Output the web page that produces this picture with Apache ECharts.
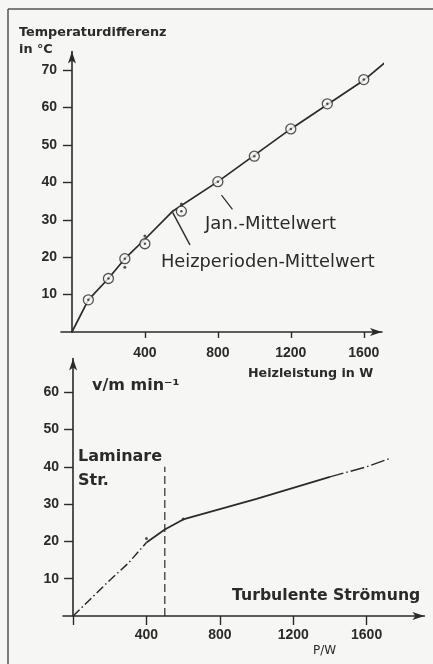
<!DOCTYPE html>
<html>
<head>
<meta charset="utf-8">
<script src="https://cdn.jsdelivr.net/npm/echarts@6/dist/echarts.min.js"></script>
<style>
html, body { margin: 0; padding: 0; background: #f6f6f4; }
#chart { width: 433px; height: 664px; }
</style>
</head>
<body>
<div id="chart"></div>
<script>
// oberes Diagramm: Temperaturdifferenz ueber Heizleistung
var janW = [90, 200, 290, 400, 600, 800, 1000, 1200, 1400, 1600];
var janT = [8.6, 14.3, 19.6, 23.6, 32.3, 40.2, 47, 54.3, 61, 67.5];
var heizW = [290, 400, 600];
var heizT = [17.3, 25.7, 34.2];
var kurveW = [0, 90, 200, 290, 400, 550, 800, 1200, 1600, 1730];
var kurveT = [0, 8.6, 14.3, 19.6, 24.8, 32.2, 40.2, 54.3, 67.3, 72.6];
var janZeigerW = [820, 880];
var janZeigerT = [36.6, 32.8];
var heizZeigerW = [552, 647];
var heizZeigerT = [32, 23.3];

// unteres Diagramm: Stroemungsgeschwindigkeit ueber Leistung
var stroemW = [0, 200, 300, 400, 500, 600, 1000, 1400, 1600, 1730];
var stroemV = [0, 9.6, 14.1, 19.7, 23.2, 25.9, 31.4, 37.3, 40, 42.3];
var messW = [400, 600];
var messV = [20.8, 26];
var grenzeW = [500, 500];
var grenzeV = [0, 40];

var xTicks = [400, 800, 1200, 1600];
var yTicksOben = [10, 20, 30, 40, 50, 60, 70];
var yTicksUnten = [10, 20, 30, 40, 50, 60];

var ink = '#2a2a2a';
var bg = '#f6f6f4';
var tickFont = '"Liberation Sans", Arial, sans-serif';
var font = '"DejaVu Sans", sans-serif';

function zip(a, b) {
	return a.map(function (v, i) { return [v, b[i]]; });
}

function axisX(idx, min, max, ticks, tickLen, margin) {
	return {
		type: 'value', gridIndex: idx, min: min, max: max,
		splitLine: { show: false },
		axisLine: { onZero: true, symbol: ['none', 'arrow'], symbolSize: [6, 12], lineStyle: { color: ink, width: 1.6 } },
		axisTick: { customValues: ticks, length: tickLen, lineStyle: { color: ink, width: 1.4 } },
		axisLabel: { customValues: xTicks, margin: margin, color: ink, fontSize: 14, fontWeight: 'bold', fontFamily: tickFont,
			formatter: function (v) { return String(v); } }
	};
}

function axisY(idx, max, ticks) {
	return {
		type: 'value', gridIndex: idx, min: 0, max: max,
		splitLine: { show: false },
		axisLine: { onZero: true, symbol: ['none', 'arrow'], symbolSize: [6, 12], lineStyle: { color: ink, width: 1.6 } },
		axisTick: { customValues: ticks, length: 9, lineStyle: { color: ink, width: 1.4 } },
		axisLabel: { customValues: ticks, margin: 4, color: ink, fontSize: 14, fontWeight: 'bold', fontFamily: tickFont }
	};
}

function text(x, y, str, size, weight) {
	return {
		type: 'text', left: x, top: y,
		style: { text: str, fill: ink, font: (weight || 'bold') + ' ' + size + 'px ' + font }
	};
}

var chart = echarts.init(document.getElementById('chart'));

var option = {
	backgroundColor: bg,
	animation: false,
	grid: [
		{ left: 61, right: 51, top: 51.5, bottom: 332 },
		{ left: 63, right: 8.6, top: 358.6, bottom: 48 }
	],
	xAxis: [
		axisX(0, -60, 1700, xTicks, 6, 14),
		axisX(1, -55, 1915, [0].concat(xTicks), 9, 12)
	],
	yAxis: [
		axisY(0, 75, yTicksOben),
		axisY(1, 69, yTicksUnten)
	],
	series: [
		{ type: 'line', xAxisIndex: 0, yAxisIndex: 0, data: zip(kurveW, kurveT), symbol: 'none', clip: false,
		  lineStyle: { color: ink, width: 1.7 }, z: 2 },
		{ type: 'line', xAxisIndex: 0, yAxisIndex: 0, data: zip(janZeigerW, janZeigerT), symbol: 'none',
		  lineStyle: { color: ink, width: 1.2 }, z: 2 },
		{ type: 'line', xAxisIndex: 0, yAxisIndex: 0, data: zip(heizZeigerW, heizZeigerT), symbol: 'none',
		  lineStyle: { color: ink, width: 1.4 }, z: 2 },
		{ type: 'scatter', xAxisIndex: 0, yAxisIndex: 0, data: zip(janW, janT), symbol: 'circle', symbolSize: 10,
		  itemStyle: { color: bg, borderColor: ink, borderWidth: 1.3 }, z: 3 },
		{ type: 'scatter', xAxisIndex: 0, yAxisIndex: 0, data: zip(janW, janT), symbolSize: 2.5,
		  itemStyle: { color: ink }, z: 4 },
		{ type: 'scatter', xAxisIndex: 0, yAxisIndex: 0, data: zip(heizW, heizT), symbolSize: 3,
		  itemStyle: { color: ink }, z: 4 },

		{ type: 'line', xAxisIndex: 1, yAxisIndex: 1, data: zip(stroemW.slice(0, 4), stroemV.slice(0, 4)), symbol: 'none',
		  lineStyle: { color: ink, width: 1.5, type: [9, 3, 1.5, 3] }, z: 2 },
		{ type: 'line', xAxisIndex: 1, yAxisIndex: 1, data: zip(stroemW.slice(3, 8), stroemV.slice(3, 8)), symbol: 'none',
		  lineStyle: { color: ink, width: 1.7 }, z: 2 },
		{ type: 'line', xAxisIndex: 1, yAxisIndex: 1, data: zip(stroemW.slice(7), stroemV.slice(7)), symbol: 'none',
		  lineStyle: { color: ink, width: 1.5, type: [14, 3, 1.5, 3] }, z: 2 },
		{ type: 'line', xAxisIndex: 1, yAxisIndex: 1, data: zip(grenzeW, grenzeV), symbol: 'none',
		  lineStyle: { color: ink, width: 1.2, type: [8, 4] }, z: 2 },
		{ type: 'scatter', xAxisIndex: 1, yAxisIndex: 1, data: zip(messW, messV), symbolSize: 3,
		  itemStyle: { color: ink }, z: 3 }
	],
	graphic: [
		{ type: 'line', shape: { x1: 8, y1: 9, x2: 433, y2: 9 }, style: { stroke: '#555', lineWidth: 1.5 } },
		{ type: 'line', shape: { x1: 8, y1: 9, x2: 8, y2: 664 }, style: { stroke: '#555', lineWidth: 1.5 } },
		text(19, 26, 'Temperaturdifferenz', 12.8),
		text(19, 43, 'in \u00b0C', 12.8),
		text(205, 215, 'Jan.-Mittelwert', 18, 'normal'),
		text(161, 253, 'Heizperioden-Mittelwert', 17.8, 'normal'),
		text(248, 367, 'Heizleistung in W', 12.7),
		text(92, 378, 'v/m min\u207b\u00b9', 16),
		text(78, 449, 'Laminare', 16),
		text(78, 473, 'Str.', 16),
		text(232, 588, 'Turbulente Str\u00f6mung', 15.7),
		text(313, 645, 'P/W', 12, 'normal')
	]
};

chart.setOption(option);
</script>
</body>
</html>
